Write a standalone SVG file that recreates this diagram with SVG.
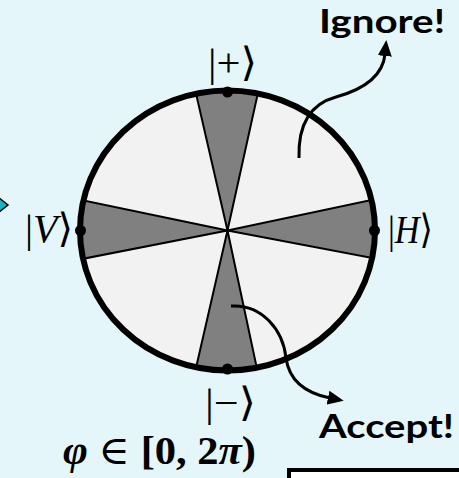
<svg xmlns="http://www.w3.org/2000/svg" width="459" height="478" viewBox="0 0 459 478">
<style>
.math{font-family:"Liberation Serif","DejaVu Serif",serif;font-size:40px;fill:#000}
.lbl{font-family:Lato,"Liberation Sans",sans-serif;font-weight:bold;font-size:33px;fill:#000}
.wedge{fill:#808080;stroke:#000;stroke-width:2;stroke-linejoin:round}
.conn{fill:none;stroke:#000;stroke-width:3}
</style>
<defs>
<clipPath id="clipE"><ellipse cx="227.5" cy="230.5" rx="147.5" ry="140"/></clipPath>
<marker id="ah" markerUnits="userSpaceOnUse" viewBox="0 0 16 16" markerWidth="16" markerHeight="16" refX="2" refY="8" orient="auto">
<path d="M0,1 L16,8 L0,15 z" fill="#000"/>
</marker>
</defs>
<rect x="0" y="0" width="459" height="478" fill="#e4f6f9"/>
<polygon points="-2,197 8,205 -2,213 -12,205" fill="#17b3c8" stroke="#000" stroke-width="1.5"/>
<g id="disk">
<ellipse cx="227.5" cy="230.5" rx="147.5" ry="140" fill="#f2f2f2"/>
<g clip-path="url(#clipE)">
<polygon class="wedge" points="227.5,230.5 187.5,56.5 266,56.5"/>
<polygon class="wedge" points="227.5,230.5 187.5,405 264.5,404"/>
<polygon class="wedge" points="227.5,230.5 57.7,195 58.9,263.5"/>
<polygon class="wedge" points="227.5,230.5 394.9,195 394.9,262.3"/>
</g>
<ellipse cx="227.5" cy="230.5" rx="147.5" ry="140" fill="none" stroke="#000" stroke-width="6"/>
<circle cx="227.5" cy="92" r="5.5" fill="#000"/>
<circle cx="227.5" cy="369" r="5.5" fill="#000"/>
<circle cx="80.5" cy="230.5" r="5.5" fill="#000"/>
<circle cx="374.5" cy="230.5" r="5.5" fill="#000"/>
</g>
<g id="plus"><text class="math" x="208" y="76" textLength="49" lengthAdjust="spacingAndGlyphs">|+⟩</text></g>
<g id="V"><text class="math" x="25" y="242" textLength="48" lengthAdjust="spacingAndGlyphs">|<tspan font-style="italic">V</tspan>⟩</text></g>
<g id="H"><text class="math" x="388" y="243" textLength="45" lengthAdjust="spacingAndGlyphs">|<tspan font-style="italic">H</tspan>⟩</text></g>
<g id="minus"><text class="math" x="205" y="416" textLength="51" lengthAdjust="spacingAndGlyphs">|−⟩</text></g>
<g id="phi"><text class="math" x="63" y="464" font-weight="bold" textLength="193" lengthAdjust="spacingAndGlyphs"><tspan font-style="italic">φ</tspan> <tspan font-weight="normal">∈</tspan> [0, 2<tspan font-style="italic">π</tspan>)</text></g>
<g id="ignore"><text class="lbl" x="319" y="33" textLength="126" lengthAdjust="spacingAndGlyphs">Ignore!</text></g>
<g id="accept"><text class="lbl" x="319" y="438" textLength="135" lengthAdjust="spacingAndGlyphs">Accept!</text></g>
<g id="connectors">
<path class="conn" d="M 299 158 C 298 125, 310 104, 336 97 C 365 89, 383 75, 385 54" marker-end="url(#ah)"/>
<path class="conn" d="M 231 306 C 262 304, 283 330, 286 358 C 289 380, 305 393, 330 398" marker-end="url(#ah)"/>
</g>
<g id="box"><rect x="289" y="470" width="200" height="40" fill="#fff" stroke="#000" stroke-width="4"/></g>
</svg>
